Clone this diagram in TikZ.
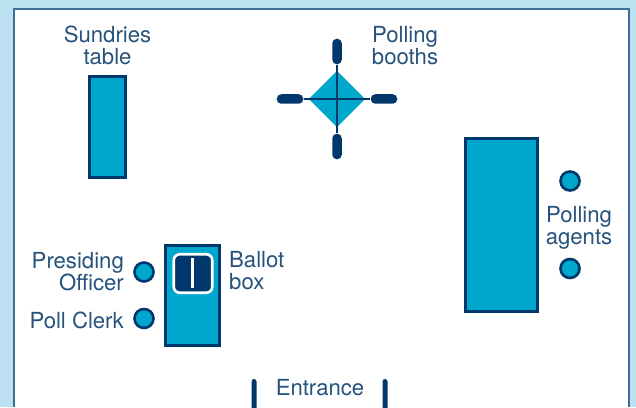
\documentclass[tikz,border=0pt]{standalone}
\usepackage{fontspec}
\setmainfont{TeX Gyre Heros}
\usetikzlibrary{shapes.geometric, positioning}
\definecolor{Marino}{RGB}{0, 56, 108}
\definecolor{Turquesa}{RGB}{0, 167, 204}
\definecolor{Celeste}{RGB}{188, 225, 240}
\definecolor{Marco}{RGB}{62, 110, 150}
\definecolor{Letra}{RGB}{38, 82, 124}
\begin{document}
\begin{tikzpicture}[
        table/.style={rectangle, draw=Marino, fill=Turquesa, line width=0.7pt, inner sep=0pt},
        person/.style={circle, draw=Marino, fill=Turquesa, line width=0.75pt, inner sep=0pt, minimum size=0.19cm},
        handle/.style={rectangle, fill=Marino, rounded corners=0.045cm, inner sep=0pt},
        post/.style={rectangle, fill=Marino, rounded corners=0.025cm, inner sep=0pt, minimum width=0.05cm, minimum height=0.56cm},
        label/.style={align=center, inner sep=0pt, text=Letra, font=\fontsize{6.3}{6.3}\selectfont}
    ]
        \useasboundingbox (0, 0) rectangle (6.36, 4.07);
        % ================= ROOM =================
        \fill[Celeste] (0, 0) rectangle (6.36, 4.07);
        \draw[Marco, fill=white, line width=0.6pt] (0.14, 0) |- (6.29, 3.98) -- (6.29, 0);
        
        % ================= TABLES =================
        \node[table, minimum width=0.36cm, minimum height=1.01cm] (sundries) at (1.075, 2.80) {};
        \node[table, minimum width=0.72cm, minimum height=1.73cm] (agentstable) at (5.015, 1.82) {};
        \node[table, minimum width=0.54cm, minimum height=1.00cm] (clerkstable) at (1.925, 1.115) {};
        
        \node[rectangle, draw=white, fill=Marino, rounded corners=0.06cm, line width=0.75pt, inner sep=0pt, minimum width=0.385cm, minimum height=0.385cm] (ballot) at (1.93, 1.335) {};
        \coordinate (slottop) at (1.925, 1.49);
        \coordinate (slotbottom) at (1.925, 1.19);
        \draw[white, line width=0.6pt] (slottop) -- (slotbottom);
        
        % ================= PEOPLE =================
        \node[person] (presiding) at (1.44, 1.35) {};
        \node[person] (clerk) at (1.44, 0.885) {};
        \node[person] (agenttop) at (5.70, 2.26) {};
        \node[person] (agentbottom) at (5.70, 1.385) {};
        
        % ================= BOOTHS =================
        \node[diamond, fill=Turquesa, inner sep=0pt, minimum width=0.57cm, minimum height=0.57cm] (booths) at (3.37, 3.08) {};
        \node[handle, minimum width=0.095cm, minimum height=0.255cm] (north) at (3.37, 3.555) {};
        \node[handle, minimum width=0.095cm, minimum height=0.255cm] (south) at (3.37, 2.605) {};
        \node[handle, minimum width=0.265cm, minimum height=0.095cm] (west) at (2.90, 3.08) {};
        \node[handle, minimum width=0.265cm, minimum height=0.095cm] (east) at (3.84, 3.08) {};
        \draw[Marino, line width=0.45pt] (north) -- (south);
        \draw[Marino, line width=0.45pt] (west) -- (east);
        
        % ================= ENTRANCE =================
        \node[post] (postleft) at (2.54, 0) {};
        \node[post] (postright) at (3.85, 0) {};
        
        % ================= LABELS =================
        \node[label] at (1.075, 3.62) {Sundries\\table};
        \node[label] at (4.05, 3.615) {Polling\\booths};
        \node[label] at (5.79, 1.795) {Polling\\agents};
        \node[label, align=right, anchor=east] at (1.245, 1.355) {Presiding\\Officer};
        \node[label, anchor=east] at (1.245, 0.865) {Poll Clerk};
        \node[label, align=left, anchor=west] at (2.285, 1.365) {Ballot\\box};
        \node[label] at (3.20, 0.19) {Entrance};
\end{tikzpicture}
\end{document}
